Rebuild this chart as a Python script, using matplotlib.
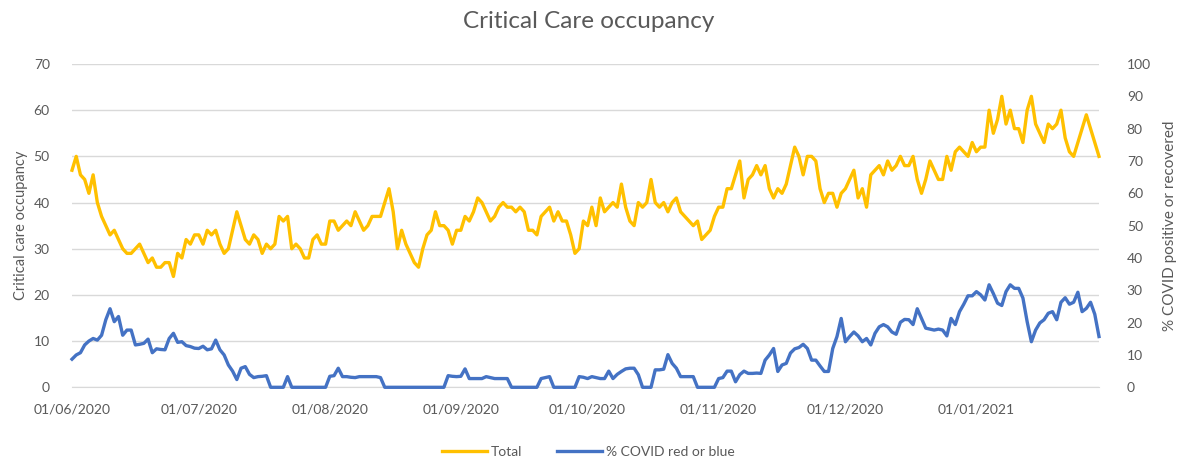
import matplotlib
matplotlib.use("Agg")
import matplotlib.pyplot as plt
import matplotlib.dates as mdates
import pandas as pd

plt.rcParams['font.family'] = ['Lato', 'DejaVu Sans']

# daily values, 01/06/2020 - 30/01/2021
start_date = "2020-06-01"

total_jun = [47, 50, 46, 45, 42, 46, 40, 37, 35, 33, 34, 32, 30, 29, 29, 30, 31, 29, 27, 28,
             26, 26, 27, 27, 24, 29, 28, 32, 31, 33]
total_jul = [33, 31, 34, 33, 34, 31, 29, 30, 34, 38, 35, 32, 31, 33, 32, 29, 31, 30, 31, 37,
             36, 37, 30, 31, 30, 28, 28, 32, 33, 31, 31]
total_aug = [36, 36, 34, 35, 36, 35, 38, 36, 34, 35, 37, 37, 37, 40, 43, 38, 30, 34, 31, 29,
             27, 26, 30, 33, 34, 38, 35, 35, 34, 31, 34]
total_sep = [34, 37, 36, 38, 41, 40, 38, 36, 37, 39, 40, 39, 39, 38, 39, 38, 34, 34, 33, 37,
             38, 39, 36, 38, 36, 36, 33, 29, 30, 36]
total_oct = [35, 39, 35, 41, 38, 39, 40, 39, 44, 39, 36, 35, 40, 39, 40, 45, 40, 39, 40, 38,
             40, 41, 38, 37, 36, 35, 36, 32, 33, 34, 37]
total_nov = [39, 39, 43, 43, 46, 49, 41, 45, 46, 48, 46, 48, 43, 41, 43, 42, 44, 48, 52, 50,
             46, 50, 50, 49, 43, 40, 42, 42, 39, 42]
total_dec = [43, 45, 47, 41, 43, 39, 46, 47, 48, 46, 49, 47, 48, 50, 48, 48, 50, 45, 42, 45,
             49, 47, 45, 45, 50, 47, 51, 52, 51, 50, 53]
total_jan = [51, 52, 52, 60, 55, 58, 63, 57, 60, 56, 56, 53, 60, 63, 57, 55, 53, 57, 56, 57,
             60, 54, 51, 50, 53, 56, 59, 56, 53, 50]

covid_jun = [8.7, 10.0, 10.7, 13.1, 14.3, 15.1, 14.6, 16.1, 20.9, 24.3, 20.3, 21.9, 16.1, 17.7, 17.7,
             13.1, 13.3, 13.6, 14.9, 10.7, 11.9, 11.7, 11.6, 15.1, 16.7, 13.9, 14.1, 12.9, 12.6, 12.1]
covid_jul = [12.0, 12.7, 11.6, 11.9, 14.6, 11.6, 10.0, 6.9, 5.0, 2.4, 5.9, 6.4, 4.0, 3.0, 3.3,
             3.4, 3.6, 0, 0, 0, 0, 3.3, 0, 0, 0, 0, 0, 0, 0, 0, 0]
covid_aug = [3.4, 3.6, 5.9, 3.3, 3.3, 3.1, 3.0, 3.3, 3.3, 3.3, 3.3, 3.3, 3.0, 0, 0,
             0, 0, 0, 0, 0, 0, 0, 0, 0, 0, 0, 0, 0, 3.6, 3.4, 3.3]
covid_sep = [3.4, 5.7, 2.7, 2.7, 2.7, 2.7, 3.3, 3.0, 2.7, 2.7, 2.7, 2.7, 0, 0, 0,
             0, 0, 0, 0, 2.7, 3.0, 3.3, 0, 0, 0, 0, 0, 0, 3.3, 3.1]
covid_oct = [2.7, 3.3, 3.0, 2.7, 2.7, 5.0, 2.7, 4.0, 4.9, 5.7, 5.9, 5.9, 3.9, 0, 0,
             0, 5.4, 5.4, 5.6, 10.1, 7.4, 5.9, 3.3, 3.3, 3.3, 3.3, 0, 0, 0, 0, 0]
covid_nov = [2.7, 3.0, 5.0, 5.0, 1.7, 3.9, 5.0, 4.3, 4.3, 4.4, 4.3, 8.4, 10.0, 12.0, 4.9,
             6.9, 7.4, 10.6, 11.9, 12.3, 13.3, 12.0, 8.4, 8.4, 6.6, 4.9, 4.9, 12.0, 15.7, 21.3]
covid_dec = [14.1, 15.7, 17.1, 15.9, 14.1, 15.1, 13.1, 16.7, 18.7, 19.4, 18.7, 17.1, 16.4, 20.1, 21.0,
             20.9, 19.4, 24.3, 21.3, 18.3, 18.0, 17.7, 18.0, 17.7, 15.9, 21.3, 19.4, 23.4, 25.7, 28.3, 28.3]
covid_jan = [29.6, 28.6, 27.0, 31.7, 29.0, 26.0, 25.3, 29.6, 31.7, 30.6, 30.6, 27.6, 20.3, 14.1, 17.7,
             19.9, 20.9, 22.9, 23.4, 20.9, 26.3, 27.7, 25.7, 26.3, 29.4, 23.4, 24.4, 26.3, 22.6, 15.7]

total = total_jun + total_jul + total_aug + total_sep + total_oct + total_nov + total_dec + total_jan
covid_pct = covid_jun + covid_jul + covid_aug + covid_sep + covid_oct + covid_nov + covid_dec + covid_jan
dates = pd.date_range(start_date, periods=len(total), freq="D")

grey = "#595959"
yellow = "#FFC000"
blue = "#4472C4"

fig = plt.figure(figsize=(11.77, 4.61), dpi=100)
ax = fig.add_axes([72 / 1177, 1 - 387.3 / 461, 1027 / 1177, 323.3 / 461])
ax2 = ax.twinx()

l1, = ax.plot(dates, total, color=yellow, lw=2.4, label="Total", clip_on=False, zorder=3)
l2, = ax2.plot(dates, covid_pct, color=blue, lw=2.4, label="% COVID red or blue", clip_on=False, zorder=3)

ax.set_xlim(dates[0], dates[-1])
ax.set_ylim(0, 70)
ax.set_yticks(range(0, 71, 10))
ax2.set_ylim(0, 100)
ax2.set_yticks(range(0, 101, 10))

ax.xaxis.set_major_locator(mdates.MonthLocator())
ax.xaxis.set_major_formatter(mdates.DateFormatter("%d/%m/%Y"))

ax.grid(axis='y', color="#D9D9D9", lw=1)
ax.set_axisbelow(True)
for a in (ax, ax2):
    for s in a.spines.values():
        s.set_visible(False)
    a.tick_params(length=0, colors=grey, labelsize=10)
ax.spines['bottom'].set_visible(True)
ax.spines['bottom'].set_color("#D9D9D9")
ax.tick_params(axis='x', pad=12)
ax.tick_params(axis='y', pad=16)
ax2.tick_params(axis='y', pad=20)

ax.set_ylabel("Critical care occupancy", color=grey, fontsize=10.5, labelpad=4)
ax2.set_ylabel("% COVID positive or recovered", color=grey, fontsize=11, labelpad=9)

fig.text(0.5, 1 - 22 / 461, "Critical Care occupancy", ha="center", va="center",
         fontsize=17.5, color=grey)

fig.legend(handles=[l1, l2], loc="center", bbox_to_anchor=(0.5, 1 - 452 / 461), ncol=2,
           frameon=False, fontsize=10, labelcolor=grey, handlelength=3.2, columnspacing=2.5,
           handletextpad=0.3)

fig.savefig("out.png", dpi=100)
